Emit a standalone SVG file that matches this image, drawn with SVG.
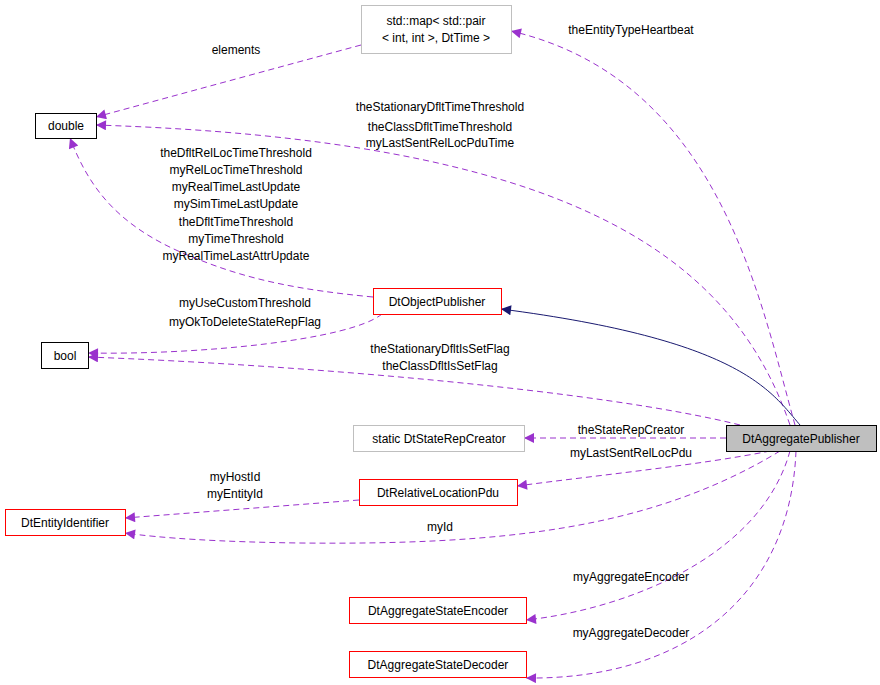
<svg xmlns="http://www.w3.org/2000/svg" width="880" height="685" viewBox="0 0 880 685">
<style>
text{font-family:"Liberation Sans",Arial,sans-serif;font-size:12px;fill:#000;text-anchor:middle}
.n{fill:#fff;stroke:#000}
.r{fill:#fff;stroke:#ff0000}
.g{fill:#fff;stroke:#bfbfbf}
.e{fill:none;stroke:#9a32cd;stroke-dasharray:6,4}
.s{fill:none;stroke:#191970}
</style>
<defs>
<marker id="p" viewBox="0 0 10 10" refX="10" refY="5" markerWidth="12" markerHeight="10" markerUnits="userSpaceOnUse" orient="auto"><path d="M0,0L10,5L0,10z" fill="#9a32cd"/></marker>
<marker id="b" viewBox="0 0 10 10" refX="10" refY="5" markerWidth="12" markerHeight="10" markerUnits="userSpaceOnUse" orient="auto"><path d="M0,0L10,5L0,10z" fill="#191970"/></marker>
</defs>
<rect width="880" height="685" fill="#fff"/>
<g id="edges">
<path class="e" marker-end="url(#p)" d="M795,425C760,300 720,80 511,31"/>
<text x="631" y="34">theEntityTypeHeartbeat</text>
<path class="e" marker-end="url(#p)" d="M361,45L96,117"/>
<text x="236" y="54">elements</text>
<path class="e" marker-end="url(#p)" d="M790,425C730,250 560,140 96,125"/>
<text x="440" y="111">theStationaryDfltTimeThreshold</text>
<text x="440" y="131">theClassDfltTimeThreshold</text>
<text x="440" y="147">myLastSentRelLocPduTime</text>
<path class="e" marker-end="url(#p)" d="M373,297C300,290 250,280 200,260C120,230 90,190 70,138"/>
<text x="236" y="157">theDfltRelLocTimeThreshold</text>
<text x="236" y="174">myRelLocTimeThreshold</text>
<text x="236" y="191">myRealTimeLastUpdate</text>
<text x="236" y="208">mySimTimeLastUpdate</text>
<text x="236" y="226">theDfltTimeThreshold</text>
<text x="236" y="243">myTimeThreshold</text>
<text x="236" y="260">myRealTimeLastAttrUpdate</text>
<path class="e" marker-end="url(#p)" d="M382,314C350,340 200,355 88,353"/>
<text x="245" y="307">myUseCustomThreshold</text>
<text x="245" y="326">myOkToDeleteStateRepFlag</text>
<path class="e" marker-end="url(#p)" d="M740,425C600,390 300,365 88,357"/>
<text x="440" y="353">theStationaryDfltIsSetFlag</text>
<text x="440" y="370">theClassDfltIsSetFlag</text>
<path class="s" marker-end="url(#b)" d="M800,425C770,390 740,340 501,309"/>
<path class="e" marker-end="url(#p)" d="M726,438L524,438"/>
<text x="631" y="434">theStateRepCreator</text>
<path class="e" marker-end="url(#p)" d="M770,451C700,465 600,475 517,486"/>
<text x="631" y="457">myLastSentRelLocPdu</text>
<path class="e" marker-end="url(#p)" d="M359,500L125,518"/>
<text x="235" y="481">myHostId</text>
<text x="235" y="498">myEntityId</text>
<path class="e" marker-end="url(#p)" d="M780,451C650,530 500,545 300,543C220,542 160,538 125,533"/>
<text x="440" y="531">myId</text>
<path class="e" marker-end="url(#p)" d="M790,451C760,560 620,610 526,620"/>
<text x="631" y="581">myAggregateEncoder</text>
<path class="e" marker-end="url(#p)" d="M796,451C790,600 680,680 526,678"/>
<text x="631" y="637">myAggregateDecoder</text>
</g>
<g id="map"><rect class="g" x="361.5" y="5.5" width="150" height="48"/><text x="436" y="25">std::map&lt; std::pair</text><text x="436" y="42">&lt; int, int &gt;, DtTime &gt;</text></g>
<g id="double"><rect class="n" x="35.5" y="113.5" width="61" height="25"/><text x="66" y="130">double</text></g>
<g id="bool"><rect class="n" x="41.5" y="342.5" width="47" height="26"/><text x="65" y="360">bool</text></g>
<g id="DtObjectPublisher"><rect class="r" x="373.5" y="288.5" width="128" height="26"/><text x="437" y="306">DtObjectPublisher</text></g>
<g id="DtAggregatePublisher"><rect x="726.5" y="425.5" width="150" height="26" fill="#bfbfbf" stroke="#000"/><text x="801" y="443">DtAggregatePublisher</text></g>
<g id="DtStateRepCreator"><rect class="g" x="353.5" y="425.5" width="171" height="26"/><text x="439" y="443">static DtStateRepCreator</text></g>
<g id="DtRelativeLocationPdu"><rect class="r" x="359.5" y="479.5" width="158" height="26"/><text x="438" y="497">DtRelativeLocationPdu</text></g>
<g id="DtEntityIdentifier"><rect class="r" x="5.5" y="509.5" width="120" height="26"/><text x="65" y="527">DtEntityIdentifier</text></g>
<g id="DtAggregateStateEncoder"><rect class="r" x="349.5" y="597.5" width="177" height="26"/><text x="438" y="615">DtAggregateStateEncoder</text></g>
<g id="DtAggregateStateDecoder"><rect class="r" x="349.5" y="651.5" width="177" height="26"/><text x="438" y="669">DtAggregateStateDecoder</text></g>
</svg>
